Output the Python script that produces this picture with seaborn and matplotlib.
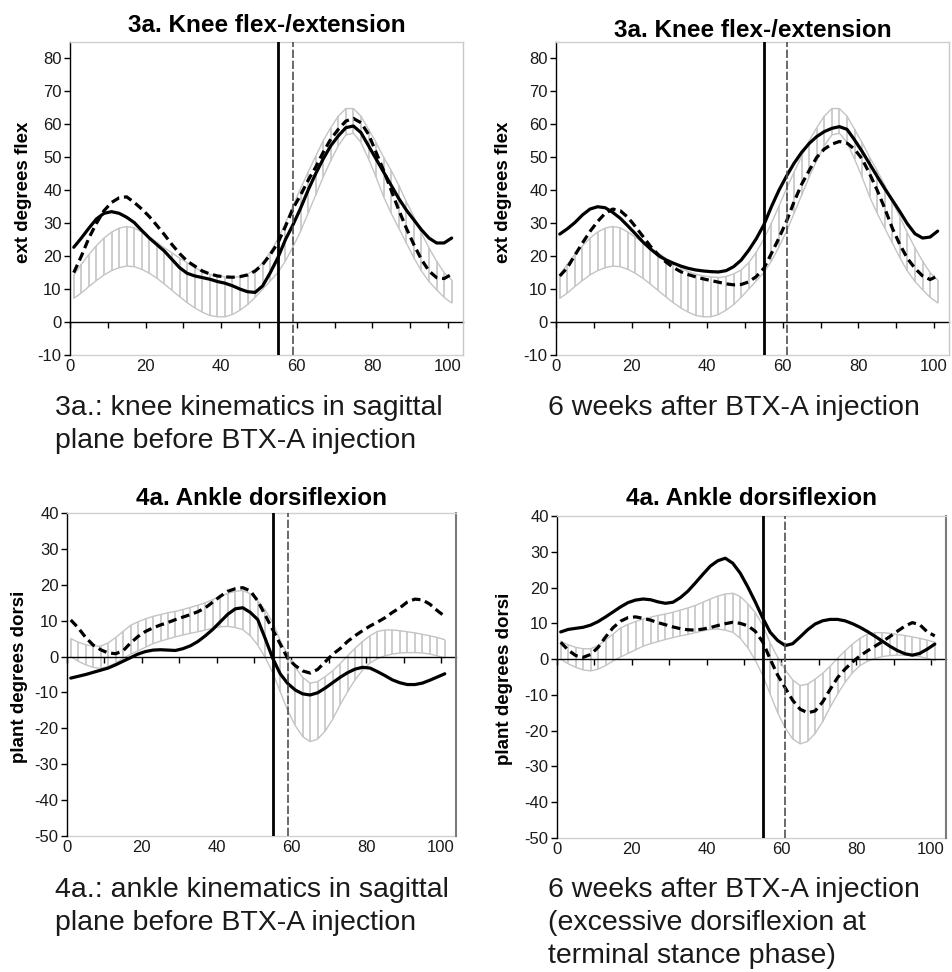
import numpy as np
import pandas as pd
import matplotlib
matplotlib.use("Agg")
import matplotlib.pyplot as plt
import seaborn as sns

# ---------------- data (% gait cycle) ----------------
gait_cycle = [1, 3, 5, 7, 9, 11, 13, 15, 17, 19, 21, 23, 25, 27, 29, 31, 33, 35, 37, 39,
              41, 43, 45, 47, 49, 51, 53, 55, 57, 59, 61, 63, 65, 67, 69, 71, 73, 75, 77, 79,
              81, 83, 85, 87, 89, 91, 93, 95, 97, 99, 101]

knee_norm_upper = [14.3, 17.5, 20.5, 23.2, 25.5, 27.3, 28.5, 29.0, 28.6, 27.3,
                   25.8, 24.2, 22.5, 21.0, 19.4, 18.0, 16.5, 15.3, 14.5, 14.0,
                   13.7, 13.5, 13.8, 14.6, 15.8, 18.0, 21.2, 25.2, 30.0, 35.2,
                   40.5, 45.5, 50.3, 55.0, 59.0, 62.5, 64.8, 64.8, 62.5, 58.5,
                   54.5, 50.0, 46.0, 41.5, 36.5, 32.0, 27.0, 22.5, 18.5, 15.0, 12.8]
knee_norm_lower = [7.2, 8.8, 10.8, 12.6, 14.3, 15.6, 16.5, 17.0, 16.8, 16.0,
                   14.8, 13.3, 11.5, 9.6, 7.7, 5.9, 4.3, 3.0, 2.0, 1.6,
                   1.6, 2.3, 3.6, 5.3, 7.5, 10.0, 12.5, 15.0, 18.5, 22.8,
                   27.5, 33.0, 38.5, 44.0, 49.0, 53.5, 56.8, 57.3, 54.5, 49.5,
                   44.0, 38.0, 33.0, 28.5, 24.0, 19.5, 15.5, 12.3, 9.8, 7.5, 5.8]

knee_before_solid = [22.7, 25.5, 28.5, 31.3, 33.0, 33.5, 33.0, 31.8, 30.2, 27.8,
                     25.5, 23.5, 21.5, 19.0, 16.5, 14.8, 14.0, 13.5, 13.0, 12.3,
                     11.8, 11.0, 10.0, 9.2, 9.0, 11.0, 15.0, 19.5, 25.0, 29.5,
                     34.5, 40.0, 45.0, 49.5, 53.5, 56.5, 59.0, 59.5, 57.5, 53.5,
                     49.5, 45.5, 41.5, 37.5, 34.0, 31.0, 28.0, 25.5, 24.0, 24.0, 25.5]
knee_before_dashed = [15.0, 20.0, 25.5, 30.0, 33.8, 36.3, 37.7, 38.0, 36.3, 34.3,
                      32.0, 29.3, 26.5, 23.5, 20.8, 18.5, 17.0, 15.5, 14.6, 14.0,
                      13.7, 13.6, 13.8, 14.3, 15.5, 17.5, 20.5, 24.0, 29.0, 34.5,
                      38.5, 43.0, 47.0, 51.5, 55.5, 58.5, 61.0, 61.8, 60.5, 57.0,
                      51.5, 46.0, 40.0, 34.0, 28.5, 23.5, 19.0, 15.5, 13.5, 13.2, 14.5]

knee_after_solid = [26.7, 28.3, 30.2, 32.5, 34.3, 35.0, 34.7, 33.3, 31.5, 29.2,
                    26.8, 24.3, 22.2, 20.3, 18.9, 17.9, 17.0, 16.3, 15.8, 15.5,
                    15.3, 15.2, 15.6, 16.8, 18.8, 21.8, 25.3, 29.5, 35.0, 40.0,
                    44.3, 48.2, 51.5, 54.2, 56.3, 57.8, 58.8, 59.3, 58.5, 55.3,
                    51.8, 48.0, 44.2, 40.5, 37.0, 33.5, 29.8, 26.8, 25.5, 25.8, 27.6]
knee_after_dashed = [14.0, 16.5, 20.3, 24.0, 27.5, 30.5, 33.0, 34.3, 33.8, 31.8,
                     29.0, 26.0, 23.0, 20.5, 18.3, 16.6, 15.3, 14.4, 13.7, 13.1,
                     12.6, 12.1, 11.6, 11.3, 11.4, 12.2, 13.8, 16.3, 20.8, 25.5,
                     30.6, 36.5, 41.8, 46.0, 50.0, 52.5, 54.0, 54.8, 54.3, 52.5,
                     49.5, 45.0, 40.0, 34.5, 28.5, 23.5, 19.3, 16.3, 14.0, 12.9, 14.0]

ankle_norm_upper = [5.0, 4.0, 3.3, 2.9, 2.9, 3.8, 5.3, 7.0, 8.7, 9.7,
                    10.5, 11.2, 11.7, 12.2, 12.6, 13.1, 13.7, 14.3, 15.0, 15.9,
                    16.8, 17.6, 18.2, 18.4, 17.5, 15.5, 13.0, 9.5, 4.5, 0.5,
                    -3.0, -5.8, -7.4, -7.0, -5.6, -4.0, -2.0, 0.2, 2.3, 4.2,
                    5.8, 7.0, 7.4, 7.4, 7.2, 6.9, 6.6, 6.2, 5.8, 5.3, 4.7]
ankle_norm_lower = [0.0, -1.3, -2.3, -3.0, -3.3, -2.8, -1.8, -0.5, 0.6, 1.6,
                    2.6, 3.6, 4.3, 4.9, 5.5, 6.0, 6.5, 6.9, 7.4, 7.9,
                    8.3, 8.4, 8.1, 7.5, 5.8, 3.2, -0.3, -4.5, -9.8, -15.0,
                    -19.2, -22.3, -23.7, -23.0, -20.8, -17.5, -13.5, -9.8, -6.5, -3.8,
                    -1.8, -0.6, 0.2, 0.7, 1.0, 1.1, 1.1, 1.0, 0.7, 0.2, -0.4]

ankle_before_solid = [-6.0, -5.5, -5.0, -4.4, -3.8, -3.2, -2.3, -1.3, -0.3, 0.7,
                      1.4, 1.8, 1.9, 1.8, 1.7, 2.2, 3.0, 4.2, 5.8, 7.6,
                      9.7, 11.8, 13.3, 13.6, 12.3, 10.3, 5.0, -0.5, -4.8, -7.5,
                      -9.3, -10.4, -10.7, -10.1, -8.8, -7.3, -5.8, -4.5, -3.5, -3.0,
                      -3.2, -4.2, -5.3, -6.5, -7.3, -7.8, -7.8, -7.4, -6.6, -5.7, -4.8]
ankle_before_dashed = [10.2, 8.0, 5.3, 3.2, 1.9, 1.0, 0.8, 1.6, 3.8, 5.6,
                       7.0, 8.0, 8.8, 9.5, 10.3, 11.0, 11.7, 12.5, 13.6, 15.2,
                       16.8, 18.2, 18.9, 19.2, 18.3, 15.5, 11.5, 7.5, 3.5, -0.5,
                       -2.5, -4.0, -4.6, -3.6, -1.5, 0.6, 2.2, 4.2, 5.8, 7.2,
                       8.5, 9.6, 10.8, 12.3, 13.6, 15.2, 16.0, 15.8, 14.6, 12.8, 11.2]

ankle_after_solid = [7.6, 8.3, 8.6, 8.9, 9.5, 10.5, 11.8, 13.2, 14.6, 15.8,
                     16.5, 16.8, 16.6, 16.0, 15.6, 15.9, 17.2, 19.0, 21.3, 23.7,
                     26.0, 27.5, 28.2, 26.8, 24.0, 20.2, 16.0, 11.5, 7.5, 5.2,
                     3.8, 4.3, 6.2, 8.2, 9.8, 10.7, 11.1, 11.1, 10.7, 9.9,
                     8.9, 7.7, 6.4, 5.0, 3.6, 2.4, 1.5, 1.1, 1.6, 2.8, 4.2]
ankle_after_dashed = [4.7, 2.5, 1.0, 0.5, 1.3, 3.3, 6.2, 8.8, 10.6, 11.6,
                      11.8, 11.4, 10.9, 10.2, 9.6, 9.0, 8.5, 8.2, 8.1, 8.4,
                      8.8, 9.4, 9.9, 10.3, 10.0, 9.3, 7.8, 4.8, 0.0, -4.5,
                      -8.0, -11.5, -14.0, -15.0, -14.5, -12.0, -8.5, -5.2, -2.8, -0.8,
                      0.9, 2.3, 3.6, 4.9, 6.3, 7.8, 9.2, 10.2, 9.6, 7.6, 6.5]

knee_title = "3a. Knee flex-/extension"
ankle_title = "4a. Ankle dorsiflexion"
knee_ylabel = "ext degrees flex"
ankle_ylabel = "plant degrees dorsi"
knee_yticks = [-10, 0, 10, 20, 30, 40, 50, 60, 70, 80]
ankle_yticks = [-50, -40, -30, -20, -10, 0, 10, 20, 30, 40]
x_ticklabels = [0, 20, 40, 60, 80, 100]
x_minor = [0, 10, 20, 30, 40, 50, 60, 70, 80, 90, 100]
toe_off_solid = [55, 55, 55, 55]
toe_off_dashed = [59, 61, 59, 61]

captions = [
    ["3a.: knee kinematics in sagittal", "plane before BTX-A injection"],
    ["6 weeks after BTX-A injection"],
    ["4a.: ankle kinematics in sagittal", "plane before BTX-A injection"],
    ["6 weeks after BTX-A injection", "(excessive dorsiflexion at", "terminal stance phase)"],
]

# ---------------- style ----------------
sns.set_theme(style="white")
plt.rcParams['font.family'] = ['Liberation Sans', 'DejaVu Sans']
plt.rcParams['axes.unicode_minus'] = False

W, H = 953, 972
fig = plt.figure(figsize=(W / 100, H / 100), dpi=100)


def rect(left, top, right, bottom):
    return [left / W, 1 - bottom / H, (right - left) / W, (bottom - top) / H]


panels = [
    dict(rect=rect(70, 42, 463, 355), title=knee_title, ylabel=knee_ylabel,
         ylim=(-10, 85), yticks=knee_yticks, lo=knee_norm_lower, hi=knee_norm_upper,
         solid=knee_before_solid, dashed=knee_before_dashed, tpad=7,
         rspine='#c8c8c8', ylab_x=-0.097, ylab_y=0.52),
    dict(rect=rect(556, 42, 949, 355), title=knee_title, ylabel=knee_ylabel,
         ylim=(-10, 85), yticks=knee_yticks, lo=knee_norm_lower, hi=knee_norm_upper,
         solid=knee_after_solid, dashed=knee_after_dashed, tpad=3.6,
         rspine='#c8c8c8', ylab_x=-0.112, ylab_y=0.52),
    dict(rect=rect(67, 513, 456, 836), title=ankle_title, ylabel=ankle_ylabel,
         ylim=(-50, 40), yticks=ankle_yticks, lo=ankle_norm_lower, hi=ankle_norm_upper,
         solid=ankle_before_solid, dashed=ankle_before_dashed, tpad=5.8,
         rspine='#7a7a7a', ylab_x=-0.100, ylab_y=0.494),
    dict(rect=rect(557, 516, 946, 838), title=ankle_title, ylabel=ankle_ylabel,
         ylim=(-50, 40), yticks=ankle_yticks, lo=ankle_norm_lower, hi=ankle_norm_upper,
         solid=ankle_after_solid, dashed=ankle_after_dashed, tpad=8,
         rspine='#7a7a7a', ylab_x=-0.113, ylab_y=0.494),
]

for i, p in enumerate(panels):
    ax = fig.add_axes(p['rect'])
    ax.set_facecolor('white')
    df = pd.DataFrame({'x': gait_cycle, 'lo': p['lo'], 'hi': p['hi'],
                       'solid': p['solid'], 'dashed': p['dashed']})
    # normal band: vertical hatch + outline
    ax.vlines(df['x'], df['lo'], df['hi'], colors='#c9c9c9', lw=1.3, zorder=1)
    sns.lineplot(data=df, x='x', y='hi', color='#c4c4c4', lw=1.0, ax=ax, zorder=1)
    sns.lineplot(data=df, x='x', y='lo', color='#c4c4c4', lw=1.0, ax=ax, zorder=1)
    # patient curves
    sns.lineplot(data=df, x='x', y='solid', color='black', lw=2.3, ax=ax, zorder=3)
    sns.lineplot(data=df, x='x', y='dashed', color='black', lw=2.3, ax=ax, zorder=3,
                 linestyle=(0, (2.7, 1.5)))
    # toe-off markers
    ax.axvline(toe_off_solid[i], color='black', lw=2.0, zorder=4)
    ax.axvline(toe_off_dashed[i], color='#505050', lw=1.2, zorder=4,
               linestyle=(0, (5, 1.6)))

    ax.set_xlim(0, 104)
    ax.set_ylim(*p['ylim'])
    ax.set_yticks(p['yticks'])
    ax.set_xticks(x_minor)
    ax.set_xlabel('')
    ax.set_ylabel(p['ylabel'], fontsize=13.5, fontweight='bold', color='black')
    ax.yaxis.set_label_coords(p['ylab_x'], p['ylab_y'])
    ax.set_title(p['title'], fontsize=17.5, fontweight='bold', pad=p['tpad'],
                 color='black')

    # spines
    ax.spines['left'].set_color('black')
    ax.spines['left'].set_linewidth(1.0)
    ax.spines['top'].set_color('#cfcfcf')
    ax.spines['top'].set_linewidth(1.0)
    ax.spines['right'].set_color(p['rspine'])
    ax.spines['right'].set_linewidth(1.5 if i >= 2 else 1.0)
    ax.spines['bottom'].set_position(('data', 0))
    ax.spines['bottom'].set_color('black')
    ax.spines['bottom'].set_linewidth(1.0)
    ax.spines['bottom'].set_zorder(2)

    ax.tick_params(axis='y', direction='out', length=4, width=1, color='black',
                   labelsize=12, labelcolor='#1a1a1a', pad=2, left=True)
    ax.tick_params(axis='x', direction='out', length=4, width=1, color='black',
                   labelbottom=False, bottom=True)

    sec = ax.secondary_xaxis('bottom')
    sec.set_xticks(x_ticklabels)
    sec.tick_params(length=0, labelsize=12, labelcolor='#1a1a1a', pad=3)
    sec.spines['bottom'].set_color('#d0d0d0')
    sec.spines['bottom'].set_linewidth(1.0)
    ax.grid(False)

# captions
caption_pos = [(55, [415, 448]), (548, [415]), (55, [897, 930]), (548, [897, 930, 963])]
for lines, (cx, ys) in zip(captions, caption_pos):
    for line, yb in zip(lines, ys):
        fig.text(cx / W, 1 - yb / H, line, fontsize=20.5, color='#1a1a1a',
                 ha='left', va='baseline')

fig.savefig("out.png", dpi=100, facecolor='white')
